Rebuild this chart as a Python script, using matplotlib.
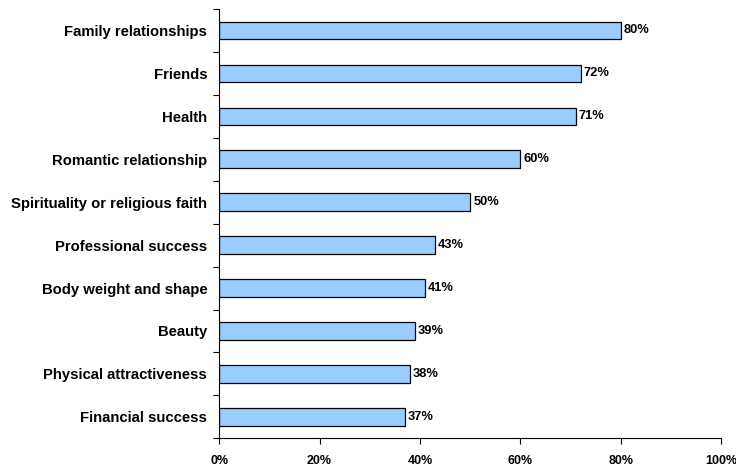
import matplotlib
matplotlib.use("Agg")
import matplotlib.pyplot as plt
import numpy as np

plt.rcParams['font.family'] = ['Liberation Sans', 'DejaVu Sans']
plt.rcParams['font.weight'] = 'bold'

categories = ["Family relationships", "Friends", "Health", "Romantic relationship",
              "Spirituality or religious faith", "Professional success",
              "Body weight and shape", "Beauty", "Physical attractiveness",
              "Financial success"]
values = [80, 72, 71, 60, 50, 43, 41, 39, 38, 37]
xticks = [0, 20, 40, 60, 80, 100]

fig = plt.figure(figsize=(7.36, 4.66), dpi=100)
ax = fig.add_axes([0.2978, 0.0594, 0.6820, 0.9213])

y = np.arange(len(categories))
ax.barh(y, values, height=0.41, color='#99CCFF', edgecolor='black', linewidth=0.9)
for yi, v in zip(y, values):
    ax.text(v + 0.6, yi, f"{v}%", va='center', ha='left', fontsize=9.3, fontweight='bold')

ax.set_xlim(0, 100)
ax.set_ylim(len(categories) - 0.5, -0.5)
ax.set_xticks(xticks)
ax.set_xticklabels([f"{t}%" for t in xticks], fontsize=9, fontweight='bold')
ax.set_yticks(y)
ax.set_yticklabels(categories, fontsize=10.7, fontweight='bold')
ax.set_yticks(np.arange(-0.5, len(categories)), minor=True)
ax.tick_params(axis='y', which='major', length=0, pad=8.6)
ax.tick_params(axis='y', which='minor', length=4, width=0.8, direction='out')
ax.tick_params(axis='x', length=4, width=0.8, direction='out', pad=8)

for s in ['top', 'right']:
    ax.spines[s].set_visible(False)
for s in ['left', 'bottom']:
    ax.spines[s].set_linewidth(0.8)

plt.savefig("out.png", dpi=100)
